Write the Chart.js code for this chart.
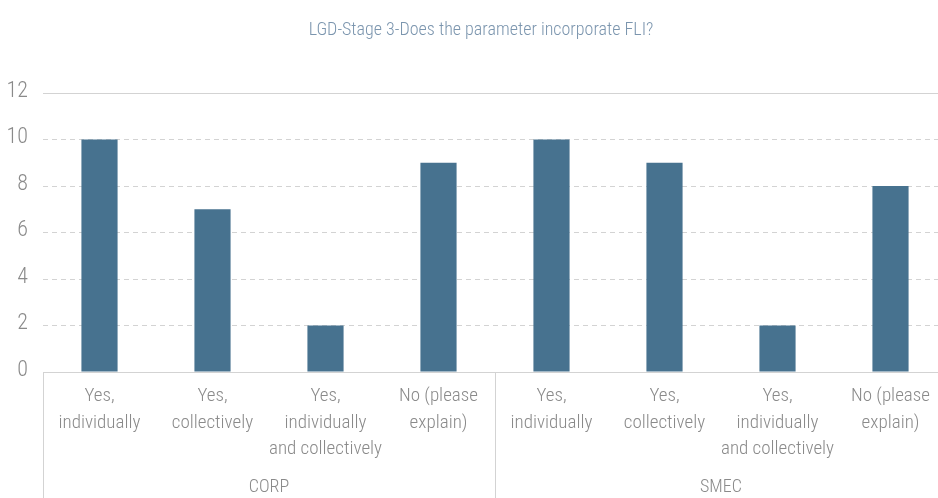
<!DOCTYPE html>
<html>
<head>
<meta charset="utf-8">
<script src="https://cdn.jsdelivr.net/npm/chart.js@4.4.1/dist/chart.umd.min.js"></script>
<style>
  html, body { margin: 0; padding: 0; overflow: hidden; background: #ffffff; }
  #wrap { width: 960px; height: 498px; position: relative; }
</style>
</head>
<body>
<div id="wrap"><canvas id="chart"></canvas></div>
<script>
// Survey answers, grouped by portfolio
const titleText = 'LGD-Stage 3-Does the parameter incorporate FLI?';
const groups = ['CORP', 'SMEC'];
const categories = [
  ['Yes,', 'individually'],
  ['Yes,', 'collectively'],
  ['Yes,', 'individually', 'and collectively'],
  ['No (please', 'explain)'],
  ['Yes,', 'individually'],
  ['Yes,', 'collectively'],
  ['Yes,', 'individually', 'and collectively'],
  ['No (please', 'explain)']
];
const counts = [10, 7, 2, 9, 10, 9, 2, 8];
const yTicks = [0, 2, 4, 6, 8, 10, 12];

const FONT = "'Roboto Condensed', 'Open Sans', sans-serif";
const WEIGHT = 300;
const LABEL = '#8a8a8a';
const LINE = '#d3d3d3';
const TITLE_COLOR = '#7b95ae';

// Title above the plot, group separators and group names under the category labels
const frame = {
  id: 'frame',
  afterDraw(chart) {
    const { ctx, chartArea, scales } = chart;
    const x = scales.x;
    const per = categories.length / groups.length;
    const bottom = chart.height;
    ctx.save();

    ctx.fillStyle = TITLE_COLOR;
    ctx.font = WEIGHT + ' 18px ' + FONT;
    ctx.textAlign = 'center';
    ctx.textBaseline = 'middle';
    ctx.fillText(titleText, 481, 30);

    ctx.strokeStyle = LINE;
    ctx.lineWidth = 1;
    const edges = [];
    for (let g = 0; g <= groups.length; g++) {
      const i = g * per;
      let px;
      if (i === 0) px = x.left;
      else if (i >= categories.length) px = x.right;
      else px = (x.getPixelForValue(i - 1) + x.getPixelForValue(i)) / 2;
      edges.push(px);
      const sx = Math.round(px) + 0.5;
      ctx.beginPath();
      ctx.moveTo(sx, chartArea.bottom);
      ctx.lineTo(sx, bottom);
      ctx.stroke();
    }
    ctx.fillStyle = LABEL;
    ctx.font = WEIGHT + ' 18px ' + FONT;
    groups.forEach((name, g) => {
      ctx.fillText(name, (edges[g] + edges[g + 1]) / 2, 487);
    });
    ctx.restore();
  }
};

new Chart(document.getElementById('chart'), {
  type: 'bar',
  data: {
    labels: categories,
    datasets: [{
      data: counts,
      backgroundColor: '#47728f',
      borderWidth: 0,
      barPercentage: 0.32,
      categoryPercentage: 1.0
    }]
  },
  options: {
    responsive: true,
    maintainAspectRatio: false,
    animation: false,
    layout: { padding: { left: 0, right: 13, top: 93, bottom: 0 } },
    plugins: {
      legend: { display: false },
      tooltip: { enabled: false },
      title: { display: false }
    },
    scales: {
      x: {
        grid: { display: false },
        border: { display: true, color: LINE, width: 1 },
        ticks: {
          color: LABEL,
          font: { family: FONT, size: 19, weight: WEIGHT, lineHeight: 1.4 },
          padding: 3,
          maxRotation: 0,
          autoSkip: false
        },
        afterFit(scale) { scale.height = 126; }
      },
      y: {
        min: 0,
        max: 12,
        afterBuildTicks(scale) { scale.ticks = yTicks.map(v => ({ value: v })); },
        ticks: {
          color: LABEL,
          font: { family: FONT, size: 22, weight: WEIGHT },
          padding: 15,
          labelOffset: -2
        },
        grid: { color: LINE, lineWidth: 1, drawTicks: false },
        border: {
          display: false,
          dash: ctx => (ctx.tick && (ctx.tick.value === 12 || ctx.tick.value === 0)) ? [] : [5, 4]
        },
        afterFit(scale) { scale.width = 43; }
      }
    }
  },
  plugins: [frame]
});
</script>
</body>
</html>
